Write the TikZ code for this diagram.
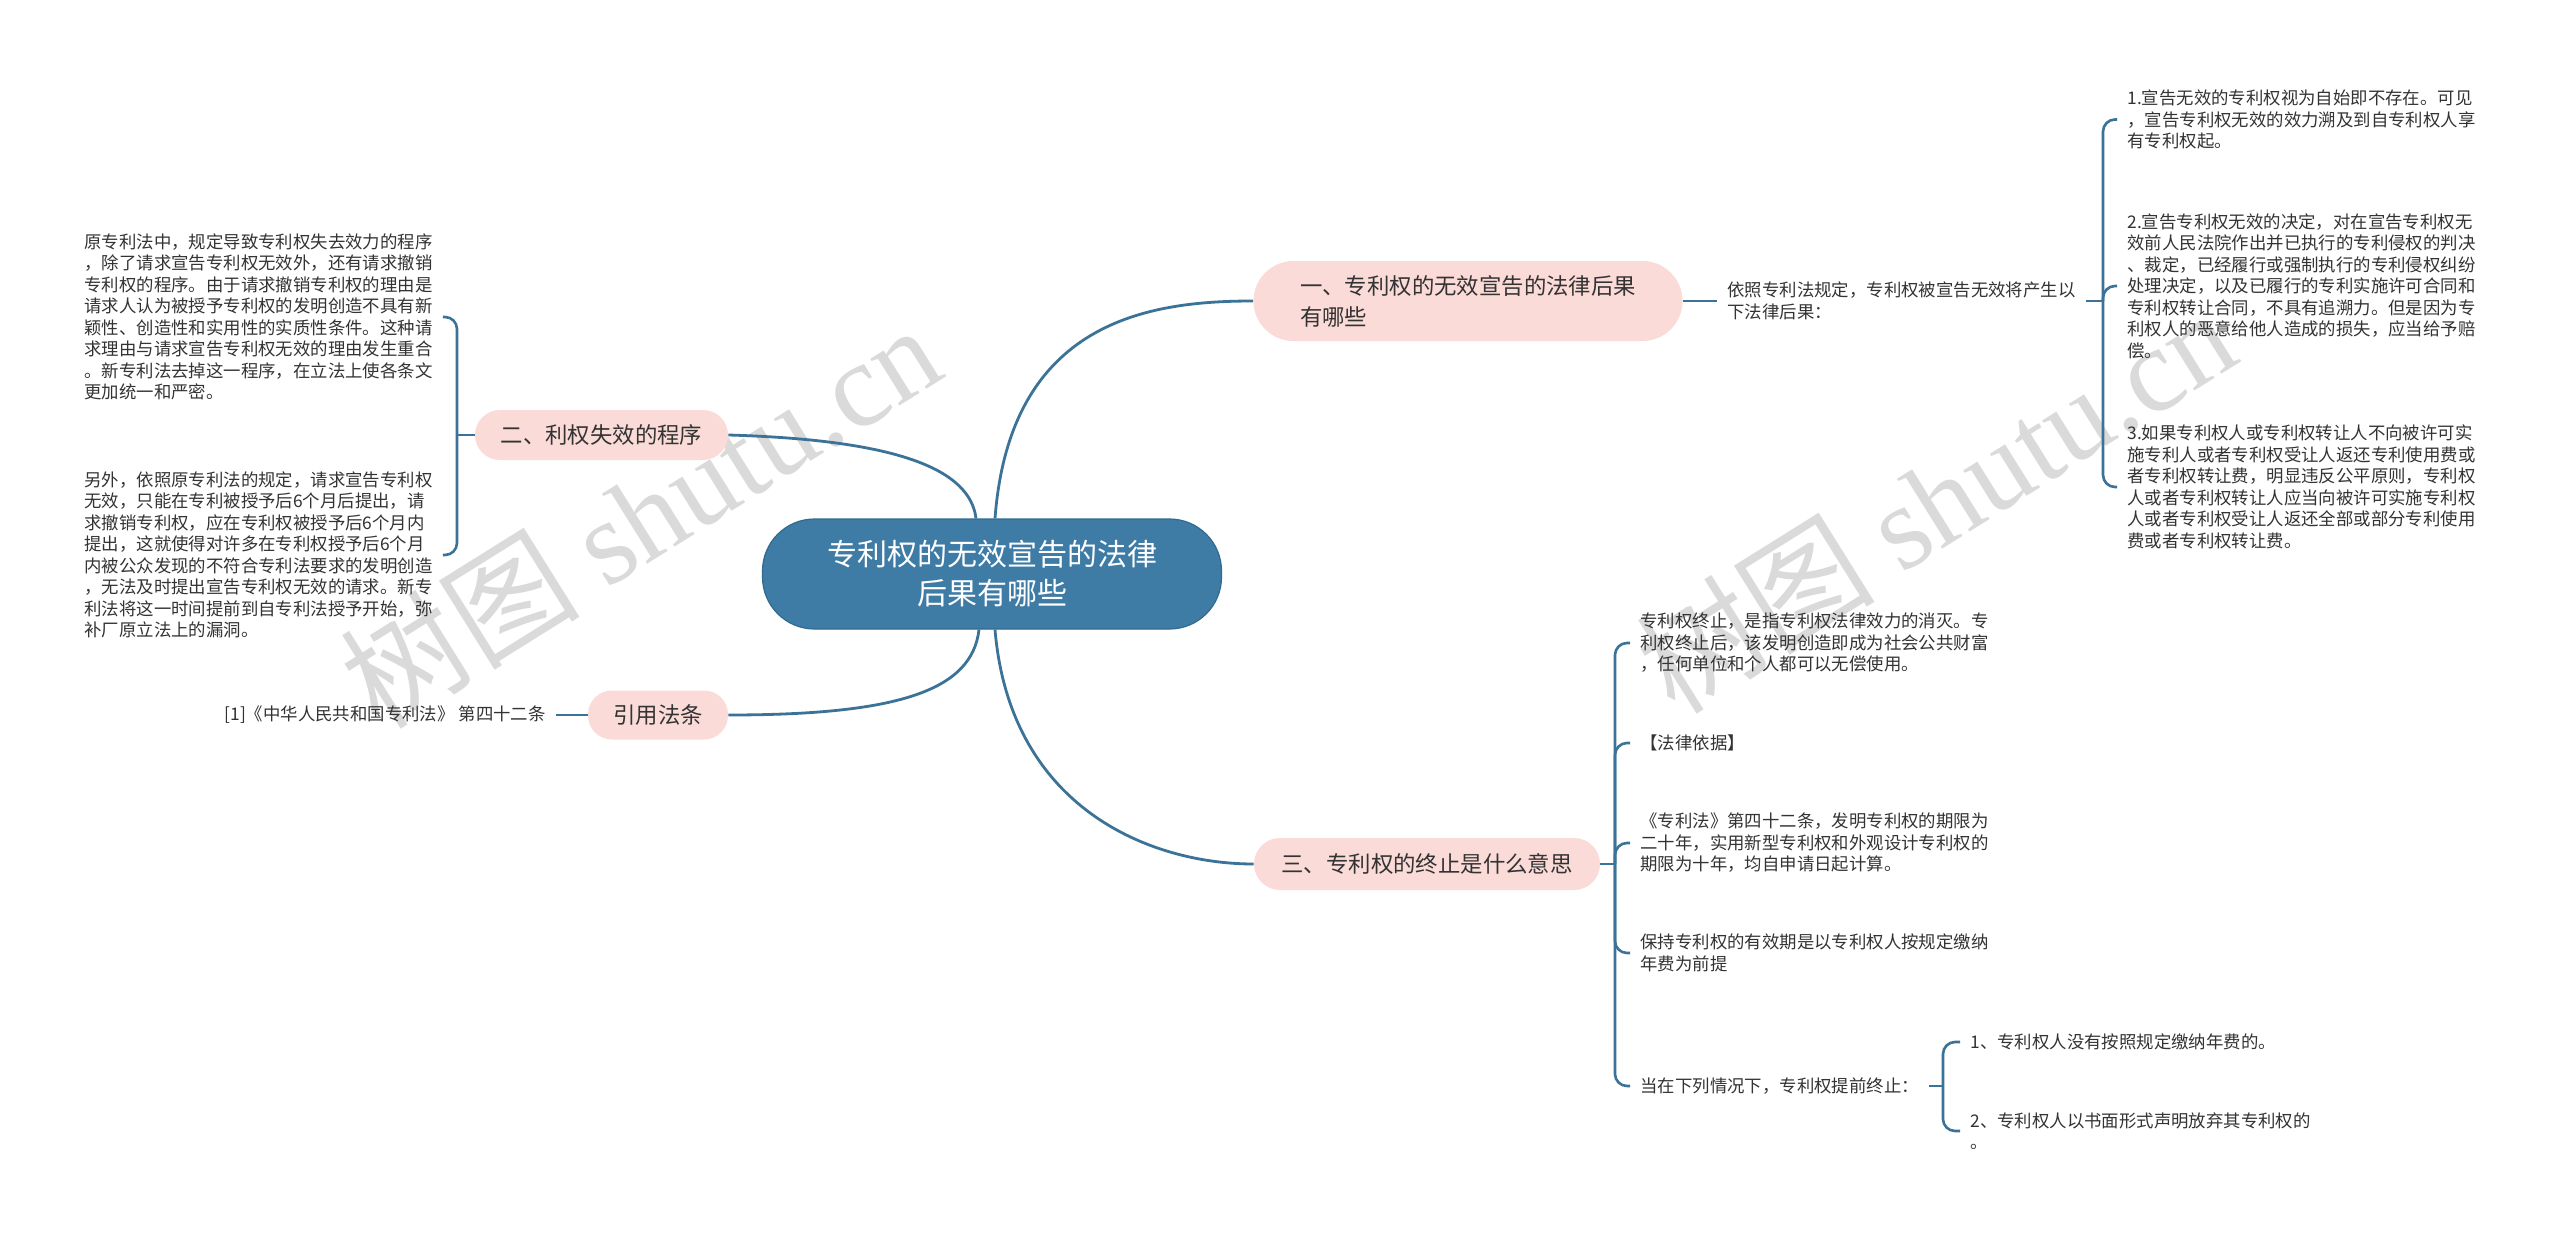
\documentclass[tikz,border=0pt]{standalone}
\usepackage{fontspec}
\setmainfont{Noto Sans CJK SC}
\newfontfamily\wmserif{Liberation Serif}
\definecolor{linec}{HTML}{3B7398}
\definecolor{rootc}{HTML}{3E7CA6}
\definecolor{rootb}{HTML}{2F6A90}
\definecolor{pinkc}{HTML}{FADBD8}
\definecolor{txtc}{HTML}{333333}
\definecolor{wmc}{HTML}{DADADA}
\begin{document}
\begin{tikzpicture}[x=0.5pt,y=-0.5pt,
  conn/.style={draw=linec,line width=1.4pt},
  brk/.style={draw=linec,line width=1.3pt,rounded corners=6pt},
  rootnode/.style={fill=rootc,draw=rootb,line width=0.6pt,rounded corners=26pt,minimum width=229.5pt,minimum height=55pt,text=white,align=center,inner sep=0pt,font=\fontsize{15pt}{19.5pt}\selectfont},
  branch/.style={fill=pinkc,text=txtc,align=left,inner sep=0pt,font=\fontsize{11.2pt}{15.5pt}\selectfont},
  leaf/.style={text=txtc,align=left,inner xsep=5pt,inner ysep=0pt,font=\fontsize{8.7pt}{10.75pt}\selectfont},
  wm/.style={text=wmc,rotate=32,inner sep=0pt,font=\fontsize{60pt}{60pt}\selectfont}
]
\useasboundingbox (0,0) rectangle (2560,1236);
\fill[white] (0,0) rectangle (2560,1236);

% watermarks
\node[wm] (wm1) at (640,515) {树图 {\wmserif shutu.cn}};
\node[wm] (wm2) at (1935,500) {树图 {\wmserif shutu.cn}};

% root and branches
\node[rootnode] (root) at (992,574) {专利权的无效宣告的法律\\后果有哪些};
\node[branch,minimum width=214.5pt,minimum height=40pt,rounded corners=20pt] (b1) at (1468,301) {一、专利权的无效宣告的法律后果\\有哪些};
\node[branch,minimum width=126.5pt,minimum height=25pt,rounded corners=12.5pt] (b2) at (601.5,435) {二、利权失效的程序};
\node[branch,minimum width=70pt,minimum height=24.5pt,rounded corners=12pt] (b3) at (658,715) {引用法条};
\node[branch,minimum width=173pt,minimum height=26pt,rounded corners=13pt] (b4) at (1427,864) {三、专利权的终止是什么意思};

% branch 1 leaves
\node[leaf,anchor=west] (intro) at (1717,301) {依照专利法规定，专利权被宣告无效将产生以\\下法律后果：};
\node[leaf,anchor=west] (i1) at (2117,119.5) {1.宣告无效的专利权视为自始即不存在。可见\\，宣告专利权无效的效力溯及到自专利权人享\\有专利权起。};
\node[leaf,anchor=west] (i2) at (2117,286) {2.宣告专利权无效的决定，对在宣告专利权无\\效前人民法院作出并已执行的专利侵权的判决\\、裁定，已经履行或强制执行的专利侵权纠纷\\处理决定，以及已履行的专利实施许可合同和\\专利权转让合同，不具有追溯力。但是因为专\\利权人的恶意给他人造成的损失，应当给予赔\\偿。};
\node[leaf,anchor=west] (i3) at (2117,487) {3.如果专利权人或专利权转让人不向被许可实\\施专利人或者专利权受让人返还专利使用费或\\者专利权转让费，明显违反公平原则，专利权\\人或者专利权转让人应当向被许可实施专利权\\人或者专利权受让人返还全部或部分专利使用\\费或者专利权转让费。};

% branch 2 leaves
\node[leaf,anchor=west] (l1) at (74,317) {原专利法中，规定导致专利权失去效力的程序\\，除了请求宣告专利权无效外，还有请求撤销\\专利权的程序。由于请求撤销专利权的理由是\\请求人认为被授予专利权的发明创造不具有新\\颖性、创造性和实用性的实质性条件。这种请\\求理由与请求宣告专利权无效的理由发生重合\\。新专利法去掉这一程序，在立法上使各条文\\更加统一和严密。};
\node[leaf,anchor=west] (l2) at (74,555) {另外，依照原专利法的规定，请求宣告专利权\\无效，只能在专利被授予后6个月后提出，请\\求撤销专利权，应在专利权被授予后6个月内\\提出，这就使得对许多在专利权授予后6个月\\内被公众发现的不符合专利法要求的发明创造\\，无法及时提出宣告专利权无效的请求。新专\\利法将这一时间提前到自专利法授予开始，弥\\补厂原立法上的漏洞。};

% branch 3 leaf
\node[leaf,anchor=east] (cite) at (556,715) {[1]《中华人民共和国专利法》 第四十二条};

% branch 4 leaves
\node[leaf,anchor=west] (t1) at (1630,643) {专利权终止，是指专利权法律效力的消灭。专\\利权终止后，该发明创造即成为社会公共财富\\，任何单位和个人都可以无偿使用。};
\node[leaf,anchor=west] (t2) at (1630,743) {【法律依据】};
\node[leaf,anchor=west] (t3) at (1630,843) {《专利法》第四十二条，发明专利权的期限为\\二十年，实用新型专利权和外观设计专利权的\\期限为十年，均自申请日起计算。};
\node[leaf,anchor=west] (t4) at (1630,953) {保持专利权的有效期是以专利权人按规定缴纳\\年费为前提};
\node[leaf,anchor=west] (t5) at (1630,1086) {当在下列情况下，专利权提前终止：};
\node[leaf,anchor=west] (s1) at (1960,1042) {1、专利权人没有按照规定缴纳年费的。};
\node[leaf,anchor=west] (s2) at (1960,1131) {2、专利权人以书面形式声明放弃其专利权的\\。};

% junctions
\coordinate (j1) at (2103,301);
\coordinate (j2) at (457,435);
\coordinate (j4) at (1615,864);
\coordinate (j5) at (1943,1086);

% root curves
\draw[conn] ([xshift=1.5pt]root.north) .. controls (1010,320) and (1150,301) .. (b1.west);
\draw[conn] ([xshift=-8pt]root.north) .. controls (970,470) and (900,440) .. (b2.east);
\draw[conn] ([xshift=-6.5pt]root.south) .. controls (972,690) and (900,715) .. (b3.east);
\draw[conn] ([xshift=1.5pt]root.south) .. controls (1010,808) and (1150,864) .. (b4.west);

% branch 1
\draw[conn] (b1.east) -- (intro.west);
\draw[conn] (intro.east) -- (j1);
\foreach \n in {i1,i2,i3} \draw[brk] (j1) |- (\n.west);

% branch 2
\draw[conn] (b2.west) -- (j2);
\foreach \n in {l1,l2} \draw[brk] (j2) |- (\n.east);

% branch 3
\draw[conn] (b3.west) -- (cite.east);

% branch 4
\draw[conn] (b4.east) -- (j4);
\foreach \n in {t1,t2,t3,t4,t5} \draw[brk] (j4) |- (\n.west);
\draw[conn] (t5.east) -- (j5);
\foreach \n in {s1,s2} \draw[brk] (j5) |- (\n.west);
\end{tikzpicture}
\end{document}
